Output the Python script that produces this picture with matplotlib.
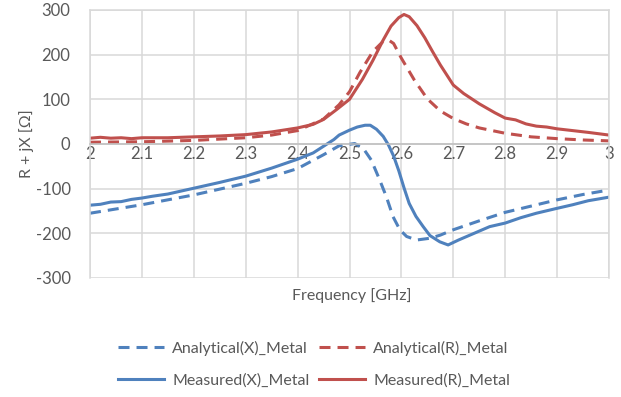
import matplotlib
matplotlib.use('agg')
import matplotlib.pyplot as plt

plt.rcParams['font.family'] = ['Lato', 'DejaVu Sans']
plt.rcParams['axes.unicode_minus'] = False

# measured resistance / reactance
freq_mr = [2.00, 2.02, 2.04, 2.06, 2.08, 2.10, 2.15, 2.20, 2.25, 2.30, 2.35, 2.40,
           2.43, 2.45, 2.475, 2.50, 2.525, 2.545, 2.565, 2.58, 2.595, 2.605, 2.615,
           2.63, 2.645, 2.66, 2.675, 2.69, 2.70, 2.72, 2.75, 2.78, 2.80, 2.82, 2.84,
           2.86, 2.88, 2.90, 2.93, 2.96, 3.00]
meas_r = [13, 15, 13, 14, 12, 14, 14, 16, 18, 21, 27, 36,
          44, 55, 77, 100, 145, 187, 233, 264, 283, 290, 285,
          265, 238, 207, 177, 150, 132, 113, 90, 70, 58, 54, 45,
          40, 38, 34, 30, 26, 20]

freq_mx = [2.00, 2.02, 2.04, 2.06, 2.08, 2.10, 2.12, 2.15, 2.20, 2.25, 2.30, 2.35,
           2.40, 2.43, 2.45, 2.47, 2.48, 2.50, 2.515, 2.53, 2.54, 2.552, 2.565,
           2.575, 2.585, 2.595, 2.605, 2.615, 2.628, 2.642, 2.655, 2.674, 2.69,
           2.71, 2.74, 2.77, 2.80, 2.83, 2.86, 2.90, 2.93, 2.96, 3.00]
meas_x = [-137, -135, -130, -129, -124, -121, -117, -112, -99, -86, -72, -54,
          -34, -20, -5, 10, 20, 31, 38, 42, 42, 33, 17,
          -2, -27, -60, -98, -133, -162, -185, -205, -219, -226,
          -215, -200, -185, -177, -165, -155, -144, -136, -127, -119]

# analytical model
freq_ar = [2.00, 2.10, 2.20, 2.30, 2.35, 2.40, 2.45, 2.48, 2.50, 2.52, 2.545,
           2.565, 2.575, 2.585, 2.60, 2.625, 2.65, 2.675, 2.70, 2.725, 2.75,
           2.80, 2.85, 2.90, 2.95, 3.00]
anal_r = [4, 5, 8, 14, 20, 30, 56, 88, 117, 160, 207,
          230, 233, 225, 192, 143, 101, 74, 57, 45, 36,
          24, 16, 12, 9, 7]

freq_ax = [2.00, 2.10, 2.20, 2.30, 2.35, 2.40, 2.45, 2.48, 2.51, 2.526, 2.542,
           2.558, 2.571, 2.584, 2.597, 2.61, 2.629, 2.655, 2.675, 2.70, 2.75,
           2.80, 2.85, 2.90, 2.95, 3.00]
anal_x = [-155, -136, -114, -88, -73, -55, -24, -4, 1, -9, -36,
          -80, -118, -163, -192, -207, -215, -211, -204, -192, -172,
          -153, -139, -125, -113, -103]

xticks = [2.0, 2.1, 2.2, 2.3, 2.4, 2.5, 2.6, 2.7, 2.8, 2.9, 3.0]
xlabels = ['2', '2.1', '2.2', '2.3', '2.4', '2.5', '2.6', '2.7', '2.8', '2.9', '3']
yticks = [-300, -200, -100, 0, 100, 200, 300]

blue = '#4F81BD'
red = '#C0504D'
txt = '#595959'
grid = '#D9D9D9'
dash = (0, (3.6, 2.3))

fig = plt.figure(figsize=(6.21, 3.97), dpi=100)
ax = fig.add_axes([90/621, 1 - 278/397, 519/621, 268/397])

ax.plot(freq_ax, anal_x, color=blue, lw=2.2, ls=dash, label='Analytical(X)_Metal')
ax.plot(freq_mx, meas_x, color=blue, lw=2.2, label='Measured(X)_Metal')
ax.plot(freq_ar, anal_r, color=red, lw=2.2, ls=dash, label='Analytical(R)_Metal')
ax.plot(freq_mr, meas_r, color=red, lw=2.2, label='Measured(R)_Metal')

ax.set_xlim(2, 3)
ax.set_ylim(-300, 300)
ax.set_xticks(xticks)
ax.set_xticklabels(xlabels)
ax.set_yticks(yticks)
ax.grid(True, color=grid, lw=1.1)
ax.set_axisbelow(True)

for s in ax.spines.values():
    s.set_color(grid)
    s.set_linewidth(1.1)
ax.spines['bottom'].set_position(('data', 0))
ax.spines['bottom'].set_color('#BFBFBF')

ax.tick_params(axis='both', length=0, labelsize=12, colors=txt)
ax.tick_params(axis='x', pad=1.5)
ax.tick_params(axis='y', pad=14)

ax.set_ylabel('R + jX [Ω]', fontsize=11.5, color=txt)
ax.yaxis.set_label_coords(-56/519, 0.5)
fig.text(352/621, 1 - 296/397, 'Frequency [GHz]', fontsize=11.5, color=txt,
         ha='center', va='center')

fig.legend(loc='center', bbox_to_anchor=(314/621, 1 - 364/397), ncol=2,
           frameon=False, fontsize=11.5, handlelength=2.9, handletextpad=0.5,
           columnspacing=0.6, labelspacing=1.1, labelcolor=txt)

fig.savefig('out.png', dpi=100)
